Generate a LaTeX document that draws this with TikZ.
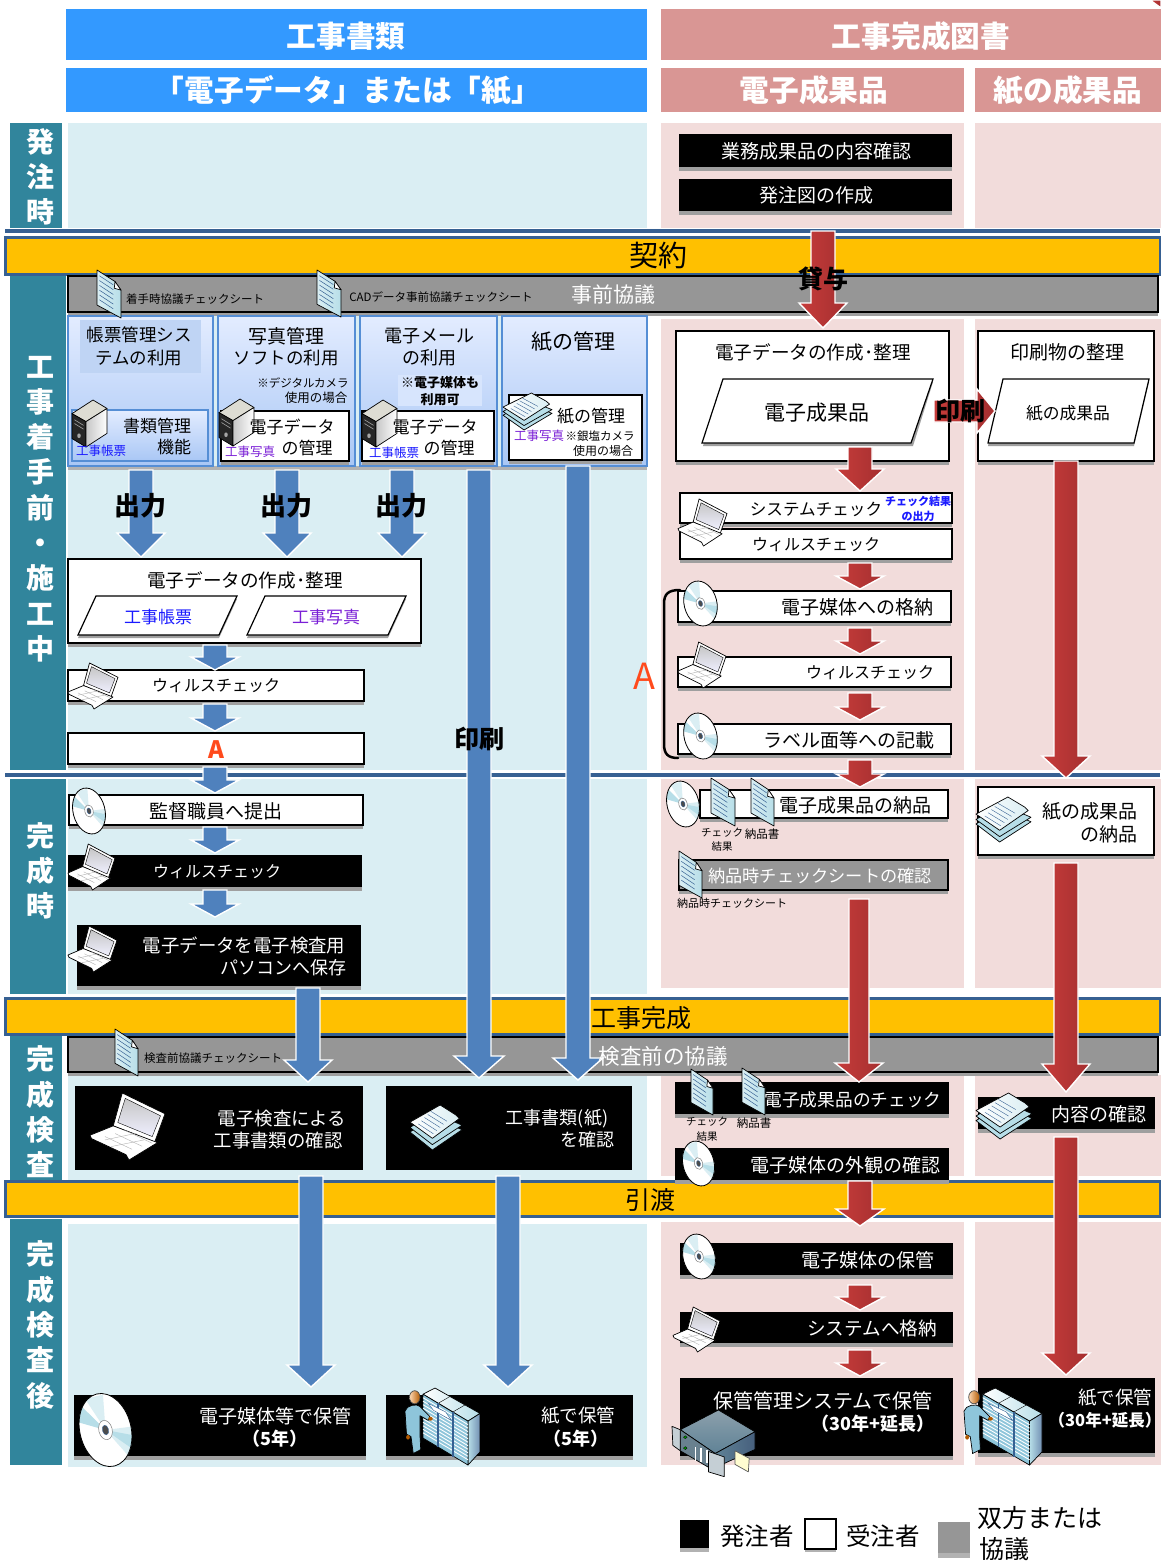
\documentclass[tikz,border=0pt]{standalone}
\usepackage{fontspec}
\setmainfont{Noto Sans CJK JP}
\usetikzlibrary{calc}
\definecolor{hblue}{HTML}{3399FF}
\definecolor{hpink}{HTML}{D99694}
\definecolor{lblue}{HTML}{DAEEF3}
\definecolor{lpink}{HTML}{F2DCDB}
\definecolor{teal1}{HTML}{31859C}
\definecolor{navy1}{HTML}{366092}
\definecolor{amber}{HTML}{FFC000}
\definecolor{gray1}{HTML}{969696}
\definecolor{arrblue}{HTML}{4F81BD}
\definecolor{redL}{HTML}{C63C3A}
\definecolor{redR}{HTML}{A52F30}
\definecolor{boxT}{HTML}{E3ECFF}
\definecolor{boxB}{HTML}{A9C7F5}
\definecolor{boxE}{HTML}{558ED5}
\definecolor{docL}{HTML}{DAEEF3}
\definecolor{docD}{HTML}{B7DEE8}
\definecolor{purp}{HTML}{7A1FD6}
\definecolor{blu2}{HTML}{1A1AFF}
\definecolor{orng}{HTML}{FF4A1C}
\definecolor{srv1}{HTML}{5F8296}
\definecolor{srv2}{HTML}{8CA0AC}
\definecolor{pers}{HTML}{8EC5DA}
\tikzset{
 txt/.style={inner sep=0pt,outer sep=0pt,text=black,align=center},
 fs/.style={font=\fontsize{#1}{#1}\selectfont},
 fb/.style={font=\fontsize{#1}{#1}\selectfont\bfseries},
 wt/.style={text=white},
 bgb/.style={fill=lblue},
 bgp/.style={fill=lpink},
 tealb/.style={fill=teal1},
 hb/.style={fill=hblue},
 hp/.style={fill=hpink},
 band/.style={fill=amber,draw=navy1,line width=3pt},
 grayb/.style={fill=gray1,draw=black,line width=1.2pt},
 whitebx/.style={fill=white,draw=black,line width=1.2pt},
 blackbx/.style={fill=black},
 blu/.style={fill=arrblue,draw=white,line width=1.4pt},
 red/.style={left color=redL,right color=redR,draw=white,line width=1.4pt},
 mgmt/.style={top color=boxT,bottom color=boxB,draw=boxE,line width=1.3pt},
 vlabel/.style={txt,text=white,font=\fontsize{28}{35.3}\selectfont\bfseries},
 ico/.style={draw=black,line width=.7pt,line join=round},
}
\newcounter{nn}
\newcommand\T[4][]{\stepcounter{nn}\node[txt,#1] (t\arabic{nn}) at (#2,#3+1) {#4};}
\newcommand\Bx[6]{\node[#2,minimum width={(#5-#3)*1pt},minimum height={(#6-#4)*1pt},inner sep=0pt,outer sep=0pt,anchor=north west] (#1) at (#3,#4) {};}
\newcommand\SBx[6]{\fill[gray!75] (#3,#4+3) rectangle (#5,#6+4);\Bx{#1}{#2}{#3}{#4}{#5}{#6}}
\newcommand\BArr[8]{\coordinate (#1s) at (#3,#4);\coordinate (#1e) at (#3,#5);
 \path[#2] let \p1=(#1s),\p2=(#1e) in (\x1-#6pt,\y1) -- (\x1+#6pt,\y1) -- (\x1+#6pt,\y2+#8pt) -- (\x1+#7pt,\y2+#8pt) -- (\x2,\y2) -- (\x1-#7pt,\y2+#8pt) -- (\x1-#6pt,\y2+#8pt) -- cycle;}
\newcommand\HArr[8]{\coordinate (#1s) at (#4,#3);\coordinate (#1e) at (#5,#3);
 \path[#2] let \p1=(#1s),\p2=(#1e) in (\x1,\y1-#6pt) -- (\x1,\y1+#6pt) -- (\x2-#8pt,\y1+#6pt) -- (\x2-#8pt,\y1+#7pt) -- (\x2,\y1) -- (\x2-#8pt,\y1-#7pt) -- (\x2-#8pt,\y1-#6pt) -- cycle;}
% icon scopes: x y w h
\newcommand\IcDoc[4]{\begin{scope}[shift={(#1,#2)},x=#3pt,y=-#4pt]
 \path[ico,left color=docL,right color=docD] (0,0) -- (.75,.24) -- (1,.42) -- (1,1) -- (0,.73) -- cycle;
 \path[ico,fill=white] (.75,.24) -- (.72,.38) -- (1,.42) -- cycle;
 \foreach \k in {.12,.22,.32,.42,.52,.62}{\draw[navy1,line width=.5pt] (.1,\k) -- (.68,\k+.19);}
\end{scope}}
\newcommand\IcCD[4]{\begin{scope}[shift={(#1,#2)},x=#3pt,y=-#4pt]
 \begin{scope}[rotate around={14:(.5,.5)}]
 \fill[white] (.5,.5) ellipse [x radius=.42,y radius=.53];
 \begin{scope}
 \clip (.5,.5) ellipse [x radius=.42,y radius=.53];
 \fill[docD] (.5,.5) -- (0,.25) -- (.15,0) -- cycle;
 \fill[docL] (.5,.5) -- (.3,0) -- (.6,0) -- cycle;
 \fill[docL] (.5,.5) -- (1,.55) -- (.8,1) -- cycle;
 \fill[docD] (.5,.5) -- (1,.7) -- (.9,.9) -- cycle;
 \end{scope}
 \draw[black,line width=.8pt] (.5,.5) ellipse [x radius=.42,y radius=.53];
 \draw[gray,fill=white,line width=.5pt] (.5,.5) ellipse [x radius=.11,y radius=.14];
 \draw[navy1,fill=gray!60!black,line width=.4pt] (.5,.5) ellipse [x radius=.05,y radius=.07];
 \end{scope}
\end{scope}}
\newcommand\IcLap[4]{\begin{scope}[shift={(#1,#2)},x=#3pt,y=-#4pt]
 \path[ico,fill=white] (.43,0) -- (1,.31) -- (.86,.74) -- (.31,.49) -- cycle;
 \path[draw=black,line width=.4pt,top color=gray!45,bottom color=blue!6] (.47,.08) -- (.94,.34) -- (.83,.65) -- (.37,.44) -- cycle;
 \path[ico,fill=white] (0,.63) -- (.31,.49) -- (.9,.74) -- (.52,1) -- (.48,.92) -- (.02,.68) -- cycle;
 \foreach \k in {.2,.35,.5}{\draw[gray!60,line width=.4pt] (\k*.9+.02,.71-\k*.3) -- (\k*.9+.38,.9-\k*.3);}
 \draw[gray!60,line width=.4pt] (.2,.7) -- (.62,.6);
 \draw[gray!60,line width=.4pt] (.28,.8) -- (.72,.7);
\end{scope}}
\newcommand\IcTower[4]{\begin{scope}[shift={(#1,#2)},x=#3pt,y=-#4pt]
 \path[ico,fill=yellow!12!gray!35] (0,.29) -- (.6,0) -- (1,.18) -- (.4,.46) -- cycle;
 \path[ico,fill=black!85] (0,.29) -- (.4,.46) -- (.4,1) -- (0,.82) -- cycle;
 \path[ico,left color=gray!45,right color=white] (.4,.46) -- (1,.18) -- (1,.71) -- (.4,1) -- cycle;
 \draw[gray!70,line width=.6pt] (.07,.42) -- (.33,.54) (.07,.5) -- (.33,.62);
 \fill[gray!70] (.2,.76) circle [radius=.05];
\end{scope}}
\newcommand\IcPap[4]{\begin{scope}[shift={(#1,#2)},x=#3pt,y=-#4pt]
 \path[ico,fill=docD] (0,.6) -- (.45,.26) -- (1,.55) -- (.43,1) -- cycle;
 \path[ico,fill=docD] (0,.5) -- (.45,.16) -- (1,.45) -- (.43,.88) -- cycle;
 \path[ico,left color=white,right color=docL] (0,.38) -- (.58,0) -- (.88,.22) -- (.95,.3) -- (.43,.74) -- cycle;
 \foreach \k in {0,.1,.2,.3,.4}{\draw[navy1,line width=.4pt] (.16+\k*.6,.42-\k*.7) -- (.45+\k*.65,.64-\k*.7);}
\end{scope}}
\newcommand\IcRack[4]{\begin{scope}[shift={(#1,#2)},x=#3pt,y=-#4pt]
 \path[ico,left color=white,right color=docD] (.24,.08) -- (.4,0) -- (1,.33) -- (.84,.43) -- cycle;
 \draw[black,line width=.4pt] (.44,.2) -- (.6,.11) (.64,.31) -- (.8,.22);
 \path[ico,left color=docD,right color=navy1!70] (.84,.43) -- (1,.33) -- (1,.83) -- (.84,1) -- cycle;
 \path[ico,fill=pers] (.24,.08) -- (.84,.43) -- (.84,1) -- (.24,.65) -- cycle;
 \foreach \k in {.08,.16,.24,.32,.4,.48,.56,.64,.72,.8,.88}{\draw[white,line width=.9pt] (.24,.08+\k*.57) -- (.84,.43+\k*.57);}
 \draw[navy1,line width=1.4pt] (.44,.2) -- (.44,.77) (.64,.31) -- (.64,.89);
 \path[draw=navy1,line width=.4pt,fill=white] (.31,.2) -- (.54,.31) -- (.62,.42) -- (.38,.29) -- cycle;
 \path[ico,fill=pers] (.0,.3) .. controls (.02,.22) and (.16,.2) .. (.2,.24) -- (.33,.37) -- (.31,.42) -- (.2,.36) -- (.2,.62) -- (.21,.8) -- (.11,.85) -- (.08,.63) -- (.06,.62) -- (.02,.6) -- cycle;
 \fill[orange!70!black] (.34,.4) ellipse [x radius=.03,y radius=.025];
 \fill[orange!70!black] (.04,.64) ellipse [x radius=.025,y radius=.03];
 \path[ico,draw=gray!60!black,left color=orange!30,right color=orange!70!black] (.13,.12) ellipse [x radius=.07,y radius=.085];
\end{scope}}
\newcommand\IcSrv[4]{\begin{scope}[shift={(#1,#2)},x=#3pt,y=-#4pt]
 \path[ico,top color=srv2,bottom color=srv1] (.1,.29) -- (.56,0) -- (1,.32) -- (.52,.64) -- cycle;
 \path[ico,left color=srv1,right color=navy1!70!black!85] (.52,.64) -- (1,.32) -- (1,.58) -- (.55,.83) -- cycle;
 \path[ico,fill=srv1!70!gray] (.1,.29) -- (.52,.64) -- (.52,.9) -- (.1,.6) -- cycle;
 \path[ico,fill=srv2!50] (0,.24) -- (.1,.29) -- (.1,.6) -- (.01,.52) -- cycle;
 \path[ico,fill=srv2!50] (.44,.61) -- (.63,.69) -- (.63,.98) -- (.44,.91) -- cycle;
 \foreach \k in {.28,.35,.42}{\draw[white,line width=1.4pt] (\k,.46+\k*.3) -- (\k,.66+\k*.3);}
 \path[draw=black,line width=.3pt,fill=green!60!black] (.16,.4) circle [radius=.022] (.16,.56) circle [radius=.022];
 \path[ico,draw=gray!70!black,fill=yellow!18] (.76,.6) -- (.93,.71) -- (.92,.91) -- (.76,.8) -- cycle;
\end{scope}}
\begin{document}
\begin{tikzpicture}[x=1pt,y=-1pt]
\useasboundingbox (0,0) rectangle (1161,1561);
\fill[white] (0,0) rectangle (1161,1561);
\fill[red] (1150,0) -- (1161,0) -- (1161,8) -- cycle;
% headers
\Bx{h1}{hb}{66}{9}{647}{60}
\Bx{h2}{hb}{66}{68}{647}{112}
\Bx{h3}{hp}{661}{9}{1161}{60}
\Bx{h4}{hp}{661}{68}{964}{112}
\Bx{h5}{hp}{975}{68}{1161}{112}
% backgrounds
\Bx{b1}{bgb}{68}{123}{647}{228}
\Bx{b2}{bgp}{661}{123}{964}{228}
\Bx{b3}{bgp}{975}{123}{1161}{228}
\Bx{b4}{bgb}{68}{276}{647}{770}
\Bx{b5}{bgp}{661}{319}{964}{770}
\Bx{b6}{bgp}{975}{319}{1161}{770}
\Bx{b7}{bgb}{68}{779}{647}{994}
\Bx{b8}{bgp}{661}{779}{964}{988}
\Bx{b9}{bgp}{975}{779}{1161}{988}
\Bx{b10}{bgb}{68}{1036}{647}{1180}
\Bx{b11}{bgp}{661}{1075}{964}{1176}
\Bx{b12}{bgp}{975}{1075}{1161}{1176}
\Bx{b13}{bgb}{68}{1224}{647}{1467}
\Bx{b14}{bgp}{661}{1222}{964}{1465}
\Bx{b15}{bgp}{975}{1222}{1161}{1465}
% teal labels
\Bx{l1}{tealb}{10}{123}{62}{228}
\Bx{l2}{tealb}{10}{276}{66}{770}
\Bx{l3}{tealb}{10}{779}{66}{994}
\Bx{l4}{tealb}{10}{1036}{62}{1180}
\Bx{l5}{tealb}{10}{1219}{62}{1465}
% lines and bands
\coordinate (ln1a) at (5,230.5);\coordinate (ln1b) at (1160,230.5);
\draw[navy1,line width=4pt] (ln1a) -- (ln1b);
\coordinate (ln2a) at (5,775);\coordinate (ln2b) at (1160,775);
\draw[navy1,line width=4pt] (ln2a) -- (ln2b);
\Bx{keiyaku}{band}{5}{237}{1160}{274}
\Bx{kansei}{band}{5}{998}{1160}{1034}
\Bx{hikiwatashi}{band}{5}{1181}{1160}{1216}
\SBx{g1}{grayb}{68}{276}{1158}{312}
\SBx{g2}{grayb}{68}{1037}{1158}{1072}
% four management boxes
\fill[gray!60] (68,466) rectangle (647,470);
\Bx{m1}{mgmt}{68}{316}{213}{466}
\Bx{m2}{mgmt}{218}{316}{355}{466}
\Bx{m3}{mgmt}{360}{316}{497}{466}
\Bx{m4}{mgmt}{502}{316}{647}{466}
\Bx{m1t}{fill=boxE!25!boxT}{80}{320}{201}{373}
\Bx{m3t}{fill=boxT!80!boxB}{398}{375}{482}{406}
\Bx{m1b}{mgmt}{72}{410}{208}{461}
\SBx{m2b}{whitebx}{221}{411}{349}{461}
\SBx{m3b}{whitebx}{362}{411}{494}{461}
\SBx{m4b}{whitebx}{509}{395}{642}{460}
% left flow boxes
\SBx{lb1}{whitebx}{68}{559}{421}{643}
\foreach \a/\b/\c/\d in {78/96/237/219,247/265/406/388}{
 \fill[gray!75] (\a,638) -- (\b,599) -- (\c,599) -- (\d,638) -- cycle;
 \draw[fill=white,line width=1.2pt] (\a,635) -- (\b,596) -- (\c,596) -- (\d,635) -- cycle;}
\SBx{lb2}{whitebx}{68}{670}{364}{701}
\SBx{lb3}{whitebx}{68}{733}{364}{764}
\SBx{lb4}{whitebx}{69}{795}{363}{825}
\SBx{lb5}{blackbx}{68}{855}{362}{887}
\SBx{lb6}{blackbx}{77}{925}{361}{986}
\Bx{lb7}{blackbx}{75}{1086}{363}{1170}
\Bx{lb8}{blackbx}{386}{1086}{632}{1170}
\SBx{lb9}{blackbx}{74}{1395}{366}{1456}
\SBx{lb10}{blackbx}{386}{1395}{633}{1456}
% right flow boxes
\SBx{r1}{blackbx}{679}{134}{952}{167}
\SBx{r2}{blackbx}{679}{179}{952}{211}
\SBx{r3}{whitebx}{676}{331}{949}{461}
\SBx{r4}{whitebx}{978}{331}{1154}{461}
\fill[gray!75] (703,446) -- (723,382) -- (933,382) -- (913,446) -- cycle;
\draw[fill=white,line width=1.2pt] (702,443) -- (723,379) -- (933,379) -- (911,443) -- cycle;
\fill[gray!75] (988,446) -- (1003,382) -- (1149,382) -- (1134,446) -- cycle;
\draw[fill=white,line width=1.2pt] (988,443) -- (1003,379) -- (1149,379) -- (1134,443) -- cycle;
\SBx{r5}{whitebx}{680}{493}{952}{523}
\SBx{r6}{whitebx}{680}{529}{952}{559}
\SBx{r7}{whitebx}{678}{591}{951}{622}
\SBx{r8}{whitebx}{678}{657}{951}{687}
\SBx{r9}{whitebx}{678}{724}{951}{754}
\SBx{r10}{whitebx}{700}{790}{948}{818}
\SBx{r11}{grayb}{679}{860}{948}{890}
\SBx{r12}{whitebx}{978}{787}{1154}{855}
\SBx{r13}{blackbx}{675}{1082}{949}{1114}
\SBx{r14}{blackbx}{675}{1148}{949}{1180}
\SBx{r15}{blackbx}{978}{1097}{1155}{1129}
\SBx{r16}{blackbx}{680}{1243}{953}{1275}
\SBx{r17}{blackbx}{680}{1312}{953}{1343}
\SBx{r18}{blackbx}{680}{1378}{953}{1456}
\SBx{r19}{blackbx}{978}{1378}{1155}{1453}
% bracket
\draw[black,line width=2.5pt,line cap=round] (680,590) .. controls (668,590) and (664,594) .. (664,604) -- (664,744) .. controls (664,754) and (668,758) .. (678,758);
% blue arrows
\BArr{a1}{blu}{141}{470}{557}{12}{24}{24}
\BArr{a2}{blu}{287}{470}{557}{12}{24}{24}
\BArr{a3}{blu}{402}{470}{557}{12}{24}{24}
\BArr{a4}{blu}{479}{470}{1078}{12}{25}{22}
\BArr{a5}{blu}{578}{466}{1080}{12}{25}{22}
\BArr{a6}{blu}{215}{645}{670}{12}{24}{13}
\BArr{a7}{blu}{215}{704}{731}{12}{24}{13}
\BArr{a8}{blu}{215}{767}{793}{12}{24}{13}
\BArr{a9}{blu}{215}{827}{853}{12}{24}{13}
\BArr{a10}{blu}{215}{890}{917}{12}{24}{13}
\BArr{a11}{blu}{308}{988}{1082}{12}{24}{22}
\BArr{a12}{blu}{311}{1176}{1387}{12}{24}{22}
\BArr{a13}{blu}{508}{1176}{1387}{12}{24}{22}
% red arrows
\BArr{c1}{red}{823}{231}{328}{12}{24}{25}
\HArr{c2}{red}{411}{934}{995}{11}{22}{18}
\BArr{c3}{red}{860}{447}{491}{12}{24}{22}
\BArr{c4}{red}{860}{563}{589}{12}{24}{13}
\BArr{c5}{red}{860}{628}{654}{12}{24}{13}
\BArr{c6}{red}{860}{693}{720}{12}{24}{13}
\BArr{c7}{red}{860}{760}{787}{12}{24}{13}
\BArr{c8}{red}{1066}{461}{778}{12}{24}{22}
\BArr{c9}{red}{859}{899}{1082}{10}{24}{19}
\BArr{c10}{red}{1066}{863}{1092}{12}{24}{28}
\BArr{c11}{red}{860}{1181}{1226}{12}{24}{17}
\BArr{c12}{red}{1066}{1137}{1375}{12}{24}{22}
\BArr{c13}{red}{860}{1285}{1310}{12}{24}{13}
\BArr{c14}{red}{860}{1350}{1376}{12}{24}{13}
\Bx{r14top}{blackbx}{675}{1170}{949}{1180}
% icons
\IcDoc{97}{270}{24}{48}
\IcDoc{317}{270}{24}{47}
\IcDoc{115}{1029}{23}{47}
\IcDoc{711}{778}{24}{48}
\IcDoc{751}{778}{23}{48}
\IcDoc{679}{851}{23}{47}
\IcDoc{691}{1069}{22}{46}
\IcDoc{742}{1068}{23}{47}
\IcTower{72}{400}{35}{47}
\IcTower{219}{399}{35}{47}
\IcTower{362}{400}{35}{47}
\IcPap{503}{393}{49}{37}
\IcLap{68}{663}{50}{46}
\IcLap{68}{844}{47}{46}
\IcLap{68}{926}{49}{46}
\IcLap{90}{1093}{75}{67}
\IcLap{678}{499}{49}{47}
\IcLap{678}{642}{48}{46}
\IcLap{673}{1307}{47}{45}
\IcCD{70}{789}{38}{44}
\IcCD{681}{582}{39}{43}
\IcCD{681}{714}{39}{44}
\IcCD{664}{782}{38}{44}
\IcCD{680}{1142}{37}{43}
\IcCD{680}{1235}{38}{43}
\IcCD{75}{1395}{61}{70}
\IcPap{410}{1105}{52}{45}
\IcPap{976}{797}{55}{45}
\IcPap{976}{1093}{56}{46}
\IcRack{405}{1388}{75}{77}
\IcRack{964}{1388}{78}{77}
\IcSrv{672}{1410}{83}{68}
% legend
\fill[gray!60] (680,1548) rectangle (709,1552);
\Bx{k1}{blackbx}{680}{1520}{709}{1548}
\fill[gray!60] (805,1548) rectangle (836,1552);
\Bx{k2}{whitebx}{805}{1519}{836}{1549}
\fill[gray!60] (938,1553) rectangle (970,1558);
\Bx{k3}{fill=gray1}{938}{1522}{970}{1553}
% header texts
\T[fb=29.7,wt]{346}{35}{工事書類}
\T[fb=29.7,wt]{348}{89}{「電子データ」または「紙」}
\T[fb=29.7,wt]{921}{35}{工事完成図書}
\T[fb=29.7,wt]{814}{89}{電子成果品}
\T[fb=29.7,wt]{1068}{89}{紙の成果品}
% vertical labels
\node[vlabel] (v1) at (40,177) {発\\注\\時};
\node[vlabel] (v2) at (40,509) {工\\事\\着\\手\\前\\・\\施\\工\\中};
\node[vlabel] (v3) at (40,871) {完\\成\\時};
\node[vlabel] (v4) at (40,1112) {完\\成\\検\\査};
\node[vlabel] (v5) at (40,1325) {完\\成\\検\\査\\後};
% bands
\T[fs=29]{658}{254}{契約}
\T[fs=25]{641}{1017}{工事完成}
\T[fs=25]{650}{1199}{引渡}
\T[fs=21,wt]{613}{294}{事前協議}
\T[fs=21.5,wt]{663}{1055}{検査前の協議}
\T[fs=11.5]{195}{298}{着手時協議チェックシート}
\T[fs=11.5]{441}{296}{CADデータ事前協議チェックシート}
\T[fs=11.5]{213}{1057}{検査前協議チェックシート}
% management
\T[fs=17.5]{139}{334}{帳票管理シス}
\T[fs=17.5]{139}{357}{テムの利用}
\T[fs=17]{157}{425}{書類管理}
\T[fs=17]{174}{446}{機能}
\T[fs=12.5,text=blu2]{101}{450}{工事帳票}
\T[fs=19]{286}{335}{写真管理}
\T[fs=17.5]{286}{357}{ソフトの利用}
\T[fs=11.5]{303}{382}{※デジタルカメラ}
\T[fs=12.5]{316}{397}{使用の場合}
\T[fs=17]{292}{426}{電子データ}
\T[fs=17]{307}{447}{の管理}
\T[fs=12.5,text=purp]{250}{451}{工事写真}
\T[fs=18]{429}{335}{電子メール}
\T[fs=18]{429}{357}{の利用}
\T[fb=13]{440}{382}{※電子媒体も}
\T[fb=13]{440}{399}{利用可}
\T[fs=17]{435}{426}{電子データ}
\T[fs=17]{449}{447}{の管理}
\T[fs=12.5,text=blu2]{394}{452}{工事帳票}
\T[fs=21]{573}{341}{紙の管理}
\T[fs=17]{591}{415}{紙の管理}
\T[fs=12.5,text=purp]{539}{435}{工事写真}
\T[fs=11.5]{600}{435}{※銀塩カメラ}
\T[fs=12]{603}{450}{使用の場合}
\T[fb=26]{140}{505}{出力}
\T[fb=26]{286}{505}{出力}
\T[fb=26]{401}{505}{出力}
\T[fb=25]{479}{738}{印刷}
\T[fb=25]{823}{278}{貸与}
\T[fb=25]{960}{410}{印刷}
% left flow text
\T[fs=18.6]{245}{579}{電子データの作成･整理}
\T[fs=17,text=blu2]{158}{616}{工事帳票}
\T[fs=17,text=purp]{326}{616}{工事写真}
\T[fs=16]{216}{685}{ウィルスチェック}
\T[fb=24,text=orng]{216}{749}{A}
\T[fs=19]{216}{810}{監督職員へ提出}
\T[fs=16,wt]{217}{871}{ウィルスチェック}
\T[fs=18.4,wt]{244}{944}{電子データを電子検査用}
\T[fs=18,wt]{283}{967}{パソコンへ保存}
\T[fs=18.4,wt]{282}{1118}{電子検査による}
\T[fs=18.4,wt]{278}{1140}{工事書類の確認}
\T[fs=18,wt]{557}{1118}{工事書類(紙)}
\T[fs=18,wt]{587}{1139}{を確認}
\T[fs=19,wt]{275}{1415}{電子媒体等で保管}
\T[fb=18,wt]{275}{1438}{（5年）}
\T[fs=18.5,wt]{578}{1415}{紙で保管}
\T[fb=18,wt]{576}{1438}{（5年）}
% right flow text
\T[fs=19,wt]{816}{150}{業務成果品の内容確認}
\T[fs=19,wt]{816}{194}{発注図の作成}
\T[fs=18.6]{813}{351}{電子データの作成･整理}
\T[fs=21]{817}{412}{電子成果品}
\T[fs=19]{1067}{351}{印刷物の整理}
\T[fs=16.8]{1068}{412}{紙の成果品}
\T[fs=16.6]{816}{508}{システムチェック}
\T[fb=11,text=blu2]{918}{500}{チェック結果}
\T[fb=11,text=blu2]{918}{515}{の出力}
\T[fs=16]{816}{544}{ウィルスチェック}
\T[fs=19]{857}{606}{電子媒体への格納}
\T[fs=16]{870}{672}{ウィルスチェック}
\T[fs=19]{849}{739}{ラベル面等への記載}
\T[fs=36,text=orng]{644}{675}{A}
\T[fs=19]{855}{804}{電子成果品の納品}
\T[fs=10.5]{722}{832}{チェック}
\T[fs=10.5]{722}{846}{結果}
\T[fs=11.5]{762}{833}{納品書}
\T[fs=17.2,wt]{820}{875}{納品時チェックシートの確認}
\T[fs=11]{732}{902}{納品時チェックシート}
\T[fs=19]{1090}{810}{紙の成果品}
\T[fs=19]{1109}{833}{の納品}
\T[fs=17.7,wt]{853}{1099}{電子成果品のチェック}
\T[fs=10.5]{707}{1121}{チェック}
\T[fs=10.5]{707}{1136}{結果}
\T[fs=11.5]{754}{1122}{納品書}
\T[fs=19,wt]{845}{1164}{電子媒体の外観の確認}
\T[fs=19,wt]{1099}{1113}{内容の確認}
\T[fs=19,wt]{868}{1259}{電子媒体の保管}
\T[fs=18.6,wt]{872}{1327}{システムへ格納}
\T[fs=20,wt]{823}{1400}{保管管理システムで保管}
\T[fb=18,wt]{873}{1423}{（30年+延長）}
\T[fs=18.5,wt]{1115}{1397}{紙で保管}
\T[fb=16.5,wt]{1105}{1419}{（30年+延長）}
% legend text
\T[fs=24.5]{757}{1535}{発注者}
\T[fs=24.5]{883}{1535}{受注者}
\T[fs=25]{1040}{1517}{双方または}
\T[fs=25]{1004}{1548}{協議}
\end{tikzpicture}
\end{document}
